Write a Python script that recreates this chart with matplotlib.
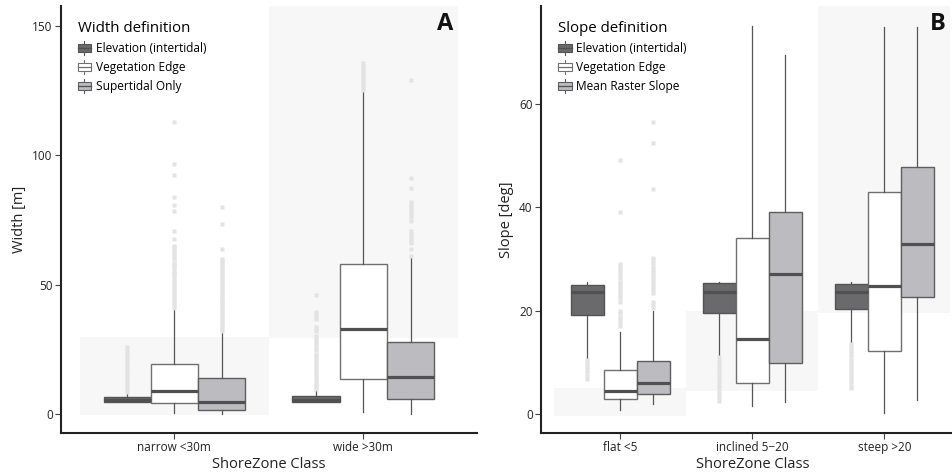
import matplotlib
matplotlib.use("Agg")
import matplotlib.pyplot as plt
from matplotlib.patches import Rectangle
from matplotlib.lines import Line2D
from matplotlib.legend_handler import HandlerBase

plt.rcParams['font.family'] = ['Open Sans', 'DejaVu Sans']

# ---------------- Panel A data ----------------
width_classes = ["narrow <30m", "wide >30m"]
width_defs = ["Elevation (intertidal)", "Vegetation Edge", "Supertidal Only"]
width_class_lo = [0, 30]
width_class_hi = [30, None]
# [whislo, q1, med, q3, whishi] for each class
width_elev = [[4.9, 4.9, 5.6, 6.6, 8.2], [4.9, 4.9, 5.6, 6.9, 9.4]]
width_veg = [[0.4, 4.4, 8.9, 19.3, 40.5], [1.0, 13.6, 32.8, 58.1, 124.3]]
width_supra = [[0.1, 1.5, 4.6, 13.9, 31.7], [0.1, 6.0, 14.4, 28.0, 60.9]]
width_elev_out = [
    [8.7, 9.5, 10.4, 11.3, 12.5, 13.2, 14.1, 15.3, 16.0, 17.2, 18.1, 19.0,
     20.2, 21.1, 22.0, 23.3, 24.1, 25.0, 25.9],
    [9.9, 10.8, 11.7, 12.6, 13.5, 14.4, 15.3, 16.2, 17.1, 18.0, 18.9, 19.8,
     20.7, 21.6, 22.5, 23.3, 24.8, 25.7, 26.6, 27.4, 28.7, 29.5, 30.3,
     32.3, 33.0, 33.6, 36.8, 37.7, 38.6, 39.4, 46.0],
]
width_veg_out = [
    [41.2, 42.1, 43.0, 44.2, 45.1, 46.0, 47.2, 48.1, 49.0, 50.2, 51.1, 52.0,
     53.1, 54.0, 54.7, 55.5, 56.3, 57.2, 58.0, 58.6, 59.9, 60.8, 61.7, 62.6,
     63.5, 64.3, 65.0, 67.6, 70.8, 78.5, 80.8, 84.0, 92.2, 96.7, 112.7],
    [125.2, 126.4, 127.3, 128.2, 129.1, 130.0, 130.9, 131.8, 132.7, 133.6,
     134.5, 135.7],
]
width_supra_out = [
    [32.2, 33.1, 34.0, 35.2, 36.1, 37.0, 38.1, 39.0, 40.2, 41.1, 42.0, 42.9,
     43.5, 44.1, 45.0, 45.9, 46.8, 47.7, 48.6, 49.5, 50.6, 51.7, 52.5, 53.4,
     54.3, 55.2, 55.8, 56.7, 57.6, 58.5, 59.3, 59.9, 63.7, 73.3, 79.9],
    [61.1, 63.9, 66.0, 66.9, 67.8, 68.7, 69.6, 70.7, 74.5, 76.3, 77.2, 78.1,
     79.0, 79.9, 80.8, 82.0, 87.5, 91.2, 129.0],
]

# ---------------- Panel B data ----------------
slope_classes = ["flat <5", "inclined 5\u221220", "steep >20"]
slope_defs = ["Elevation (intertidal)", "Vegetation Edge", "Mean Raster Slope"]
slope_class_lo = [0, 5, 20]
slope_class_hi = [5, 20, None]
slope_elev = [[10.9, 19.2, 23.6, 25.0, 25.6], [11.4, 19.5, 23.6, 25.3, 25.6],
              [14.0, 20.4, 23.6, 25.2, 25.6]]
slope_veg = [[0.8, 2.9, 4.6, 8.6, 15.9], [1.6, 6.1, 14.5, 34.0, 75.0],
             [0.2, 12.2, 24.8, 42.9, 74.9]]
slope_raster = [[2.0, 3.9, 6.0, 10.4, 20.0], [2.3, 9.9, 27.2, 39.1, 69.4],
                [2.8, 22.7, 32.9, 47.8, 74.9]]
slope_elev_out = [
    [10.5, 9.9, 9.3, 8.7, 8.1, 7.5, 6.8],
    [11.0, 10.4, 9.8, 9.2, 8.6, 8.0, 7.4, 6.8, 6.2, 5.6, 5.0, 4.4, 3.8, 3.2, 2.6],
    [13.6, 13.0, 12.4, 11.8, 11.2, 10.6, 10.0, 9.4, 8.8, 8.2, 7.6, 7.0, 6.4,
     5.8, 5.2, 5.0],
]
slope_veg_out = [
    [17.1, 17.7, 18.3, 18.9, 19.5, 20.0, 21.8, 22.4, 23.0, 23.6, 24.0, 24.7,
     25.1, 25.5, 26.3, 26.9, 27.5, 28.1, 28.6, 29.0, 39.1, 49.1],
    [], [],
]
slope_raster_out = [
    [20.5, 21.1, 21.8, 23.4, 24.0, 24.6, 25.2, 25.8, 26.3, 26.7, 27.3, 27.9,
     28.5, 29.3, 29.8, 30.3, 43.6, 52.5, 56.4],
    [], [],
]

# ---------------- styling ----------------
fills = ["#6a6a6d", "#ffffff", "#bcbcc0"]
edges = ["#545454", "#707070", "#5e5e5e"]
median_col = "#505050"
whisk_col = "#555555"
flier_col = "#e3e3e5"
bg_col = "#f7f7f7"
offsets = [-0.25, 0.0, 0.25]
bw = 0.25


class BoxHandler(HandlerBase):
    def create_artists(self, legend, orig_handle, xdescent, ydescent,
                       width, height, fontsize, trans):
        fc, ec = orig_handle
        x0, y0 = -xdescent, -ydescent
        bh = height * 0.62
        by = y0 + (height - bh) / 2
        r = Rectangle((x0, by), width, bh, facecolor=fc, edgecolor=ec,
                      lw=0.8, transform=trans)
        cx = x0 + width / 2
        mc = ec if fc == "#ffffff" else median_col
        m = Line2D([x0, x0 + width], [y0 + height / 2] * 2, color=mc,
                   lw=0.9, transform=trans)
        w1 = Line2D([cx, cx], [y0 - height * 0.05, by], color=ec, lw=0.8,
                    transform=trans)
        w2 = Line2D([cx, cx], [by + bh, y0 + height * 1.05], color=ec, lw=0.8,
                    transform=trans)
        return [w1, w2, r, m]


def panel(ax, classes, lo, hi, groups, outs, ylim, yticks, ylabel,
          legend_title, defs):
    ax.set_xlim(-0.6, len(classes) - 0.4)
    ax.set_ylim(*ylim)
    for i in range(len(classes)):
        top = hi[i] if hi[i] is not None else ylim[1]
        ax.add_patch(Rectangle((i - 0.5, lo[i] - 0.4), 1.0, top - lo[i] + 0.4,
                               facecolor=bg_col, edgecolor="none", zorder=0))
    for g, (stats_g, outs_g) in enumerate(zip(groups, outs)):
        stats = []
        for s, fl in zip(stats_g, outs_g):
            stats.append(dict(whislo=s[0], q1=s[1], med=s[2], q3=s[3],
                              whishi=s[4], fliers=fl))
        pos = [i + offsets[g] for i in range(len(stats))]
        ax.bxp(stats, positions=pos, widths=bw, patch_artist=True,
               showcaps=False, manage_ticks=False,
               boxprops=dict(facecolor=fills[g], edgecolor=edges[g], lw=1.0),
               medianprops=dict(color=median_col, lw=2.3, solid_capstyle="butt"),
               whiskerprops=dict(color=whisk_col, lw=0.9),
               flierprops=dict(marker="s", markersize=3.0,
                               markerfacecolor=flier_col,
                               markeredgecolor="none"),
               zorder=2)
    ax.set_xticks(range(len(classes)))
    ax.set_xticklabels(classes)
    ax.set_yticks(yticks)
    for sp in ["top", "right"]:
        ax.spines[sp].set_visible(False)
    for sp in ["left", "bottom"]:
        ax.spines[sp].set_color("#222222")
        ax.spines[sp].set_linewidth(1.5)
    ax.tick_params(axis="both", length=4, width=0.8, color="#444444",
                   labelsize=8.5, labelcolor="#222222", pad=2)
    ax.set_xlabel("ShoreZone Class", fontsize=10.5, color="#222222", labelpad=2)
    ax.set_ylabel(ylabel, fontsize=10.5, color="#222222", labelpad=4)
    handles = [(fills[g], edges[g]) for g in range(3)]
    leg = ax.legend(handles, defs, handler_map={tuple: BoxHandler()},
                    title=legend_title, loc="upper left",
                    bbox_to_anchor=(0.04, 0.966), frameon=False,
                    fontsize=8.6, title_fontsize=10.8, handlelength=1.15,
                    handleheight=1.25, handletextpad=0.4, labelspacing=0.5,
                    borderpad=0, borderaxespad=0, alignment="left")
    return leg


fig = plt.figure(figsize=(9.53, 4.76), dpi=100)
axA = fig.add_axes([61 / 953, 1 - 433 / 476, 415.7 / 953, 427 / 476])
axB = fig.add_axes([541 / 953, 1 - 433 / 476, 422.5 / 953, 427 / 476])

panel(axA, width_classes, width_class_lo, width_class_hi,
      [width_elev, width_veg, width_supra],
      [width_elev_out, width_veg_out, width_supra_out],
      (-7.2, 157.6), [0, 50, 100, 150], "Width [m]", "Width definition",
      width_defs)
panel(axB, slope_classes, slope_class_lo, slope_class_hi,
      [slope_elev, slope_veg, slope_raster],
      [slope_elev_out, slope_veg_out, slope_raster_out],
      (-3.6, 78.9), [0, 20, 40, 60], "Slope [deg]", "Slope definition",
      slope_defs)

axA.text(0.943, 0.985, "A", transform=axA.transAxes, ha="right", va="top",
         fontsize=17, fontweight="bold", color="#111111")
axB.text(0.9586, 0.985, "B", transform=axB.transAxes, ha="right", va="top",
         fontsize=17, fontweight="bold", color="#111111")

fig.savefig("out.png", dpi=100)
